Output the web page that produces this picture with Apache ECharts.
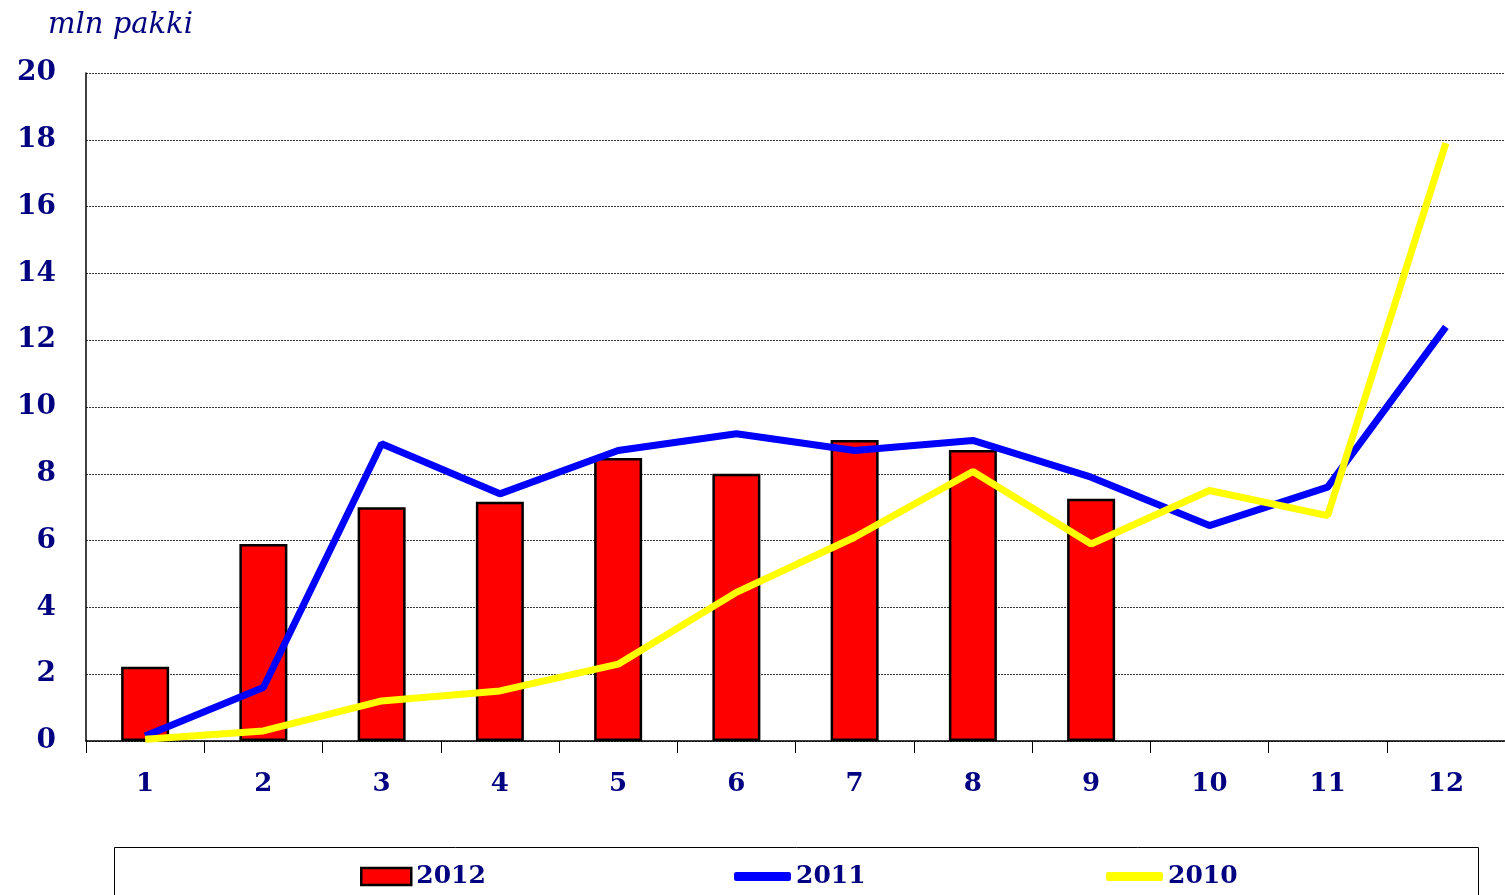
<!DOCTYPE html>
<html>
<head>
<meta charset="utf-8">
<script src="https://cdn.jsdelivr.net/npm/echarts@6/dist/echarts.min.js"></script>
<style>
  html, body { margin: 0; padding: 0; background: #fff; }
  #chart { width: 1505px; height: 895px; }
</style>
</head>
<body>
<div id="chart"></div>
<script>
const months = ['1', '2', '3', '4', '5', '6', '7', '8', '9', '10', '11', '12'];
const sales2012 = [2.22, 5.9, 7.0, 7.16, 8.47, 8.0, 9.01, 8.71, 7.25, null, null, null];
const sales2011 = [0.15, 1.6, 8.9, 7.4, 8.7, 9.2, 8.7, 9.0, 7.9, 6.45, 7.6, 12.4];
const sales2010 = [0.05, 0.3, 1.2, 1.5, 2.3, 4.45, 6.1, 8.07, 5.9, 7.5, 6.75, 17.9];

const navy = '#000080';
const serif = '"DejaVu Serif", "Liberation Serif", serif';

const chart = echarts.init(document.getElementById('chart'));

const legendText = { color: navy, fontFamily: serif, fontWeight: 'bold', fontSize: 25 };

chart.setOption({
    animation: false,
    title: {
        text: 'mln pakki',
        left: 43,
        top: 6,
        textStyle: { color: navy, fontFamily: serif, fontStyle: 'italic', fontWeight: 'normal', fontSize: 29 }
    },
    graphic: [{
        type: 'rect',
        shape: { x: 114.5, y: 847.5, width: 1364, height: 60 },
        style: { fill: '#fff', stroke: '#000', lineWidth: 1 },
        z: -1
    }],
    legend: [
        {
            left: 355, top: 859,
            itemWidth: 50, itemHeight: 17, itemGap: 6,
            textStyle: legendText,
            data: [{ name: '2012', icon: 'rect', itemStyle: { color: '#ff0000', borderColor: '#000', borderWidth: 2.5 } }]
        },
        {
            left: 729, top: 859,
            itemWidth: 57, itemHeight: 9, itemGap: 2,
            textStyle: legendText,
            data: [{ name: '2011', icon: 'roundRect', itemStyle: { color: '#0000ff', borderWidth: 0 } }]
        },
        {
            left: 1101, top: 859,
            itemWidth: 57, itemHeight: 9, itemGap: 2,
            textStyle: legendText,
            data: [{ name: '2010', icon: 'roundRect', itemStyle: { color: '#ffff00', borderWidth: 0 } }]
        }
    ],
    grid: { left: 86, right: 0, top: 73, bottom: 154, containLabel: false },
    xAxis: {
        type: 'category',
        data: months,
        boundaryGap: true,
        axisLine: { lineStyle: { color: '#000', width: 1.5 } },
        axisTick: { show: true, length: 12, lineStyle: { color: '#000' } },
        axisLabel: { color: navy, fontFamily: serif, fontWeight: 'bold', fontSize: 26, margin: 30 }
    },
    yAxis: {
        type: 'value',
        min: 0,
        max: 20,
        interval: 2,
        axisLine: { show: true, lineStyle: { color: '#000', width: 1.5 } },
        axisTick: { show: false },
        splitLine: { lineStyle: { color: '#333', type: [2, 1], width: 1 } },
        axisLabel: { color: navy, fontFamily: serif, fontWeight: 'bold', fontSize: 28, margin: 30 }
    },
    series: [
        {
            name: '2012',
            type: 'bar',
            data: sales2012,
            barWidth: 48,
            itemStyle: { color: '#ff0000', borderColor: '#000', borderWidth: 2.5 }
        },
        {
            name: '2011',
            type: 'line',
            data: sales2011,
            showSymbol: false,
            symbol: 'none',
            lineStyle: { color: '#0000ff', width: 7 },
            itemStyle: { color: '#0000ff' },
            z: 3
        },
        {
            name: '2010',
            type: 'line',
            data: sales2010,
            showSymbol: false,
            symbol: 'none',
            lineStyle: { color: '#ffff00', width: 7 },
            itemStyle: { color: '#ffff00' },
            z: 4
        }
    ]
});
</script>
</body>
</html>
